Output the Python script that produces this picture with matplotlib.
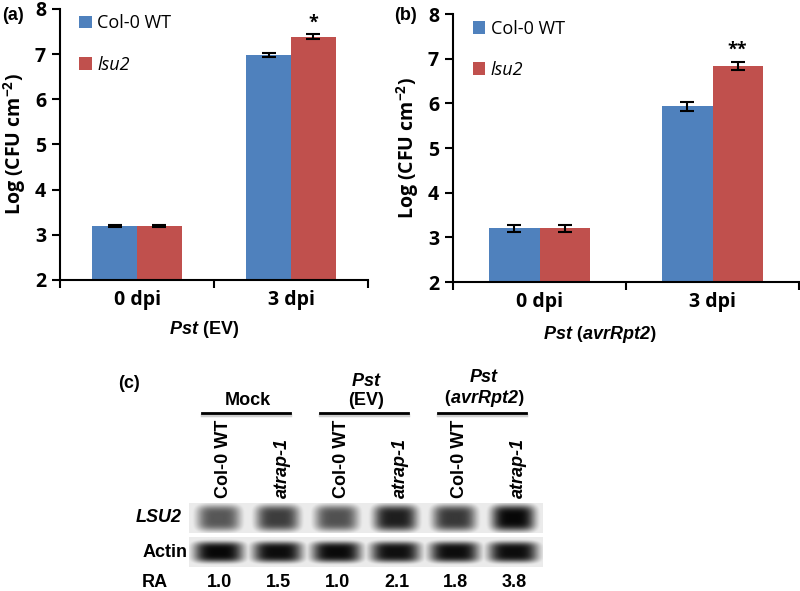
import numpy as np
import matplotlib
matplotlib.use('Agg')
import matplotlib.pyplot as plt

plt.rcParams['font.family'] = ['Open Sans', 'DejaVu Sans']
plt.rcParams['mathtext.fontset'] = 'custom'
plt.rcParams['mathtext.rm'] = 'Open Sans:bold'
plt.rcParams['mathtext.bf'] = 'Open Sans:bold'
plt.rcParams['mathtext.it'] = 'Liberation Sans:italic:bold'

# Bakteri sayımları (log CFU/cm2)
categories = ['0 dpi', '3 dpi']
wt_a = [3.2, 6.98]
wt_a_err = [0.02, 0.05]
lsu2_a = [3.2, 7.39]
lsu2_a_err = [0.02, 0.05]
sig_a = ['', '*']

wt_b = [3.2, 5.93]
wt_b_err = [0.07, 0.10]
lsu2_b = [3.2, 6.84]
lsu2_b_err = [0.07, 0.09]
sig_b = ['', '**']

# Northern blot (c)
lanes = ['Col-0 WT', 'atrap-1', 'Col-0 WT', 'atrap-1', 'Col-0 WT', 'atrap-1']
groups = ['Mock', '$\\mathit{Pst}$\n(EV)', 'Pst\n$\\mathrm{(}$avrRpt2$\\mathrm{)}$']
group_italic = [False, False, True]
ra = ['1.0', '1.5', '1.0', '2.1', '1.8', '3.8']
lsu2_band = [0.66, 0.76, 0.68, 0.88, 0.78, 0.97]
actin_band = [0.97, 0.95, 0.96, 0.94, 0.95, 0.95]

blue = '#4F81BD'
red = '#C0504D'


def bar_panel(ax, wt, wt_err, mut, mut_err, sig, xlabel, xlabel_style, label_x, label_y):
    x = np.arange(len(categories))
    w = 0.29
    ax.bar(x - w / 2, wt, w, color=blue, label='Col-0 WT')
    ax.bar(x + w / 2, mut, w, color=red, label='lsu2')
    ax.errorbar(x - w / 2, wt, yerr=wt_err, fmt='none', ecolor='black',
                capsize=5, elinewidth=1.5, capthick=1.5)
    ax.errorbar(x + w / 2, mut, yerr=mut_err, fmt='none', ecolor='black',
                capsize=5, elinewidth=1.5, capthick=1.5)
    for i in range(len(x)):
        if sig[i]:
            ax.text(x[i] + w / 2, mut[i] + mut_err[i] + 0.06, sig[i],
                    ha='center', va='bottom', fontsize=13, fontweight='bold')
    ax.set_xlim(-0.5, 1.5)
    ax.set_ylim(2, 8)
    ax.set_yticks(range(2, 9))
    ax.set_xticks(x)
    ax.set_xticklabels(categories)
    ax.set_xticks([-0.5, 0.5, 1.5], minor=True)
    ax.tick_params(axis='x', which='major', length=0, pad=7, labelsize=14)
    ax.tick_params(axis='x', which='minor', length=6, width=1.5, direction='out')
    ax.tick_params(axis='y', length=6, width=1.5, direction='out', labelsize=14, pad=4)
    for t in ax.get_xticklabels() + ax.get_yticklabels():
        t.set_fontweight('bold')
    for s in ['top', 'right']:
        ax.spines[s].set_visible(False)
    for s in ['left', 'bottom']:
        ax.spines[s].set_linewidth(1.5)
    ax.set_ylabel('Log (CFU cm$^{-2}$)', fontsize=14, fontweight='bold', labelpad=5)
    ax.set_xlabel(xlabel, fontsize=13, fontweight='bold', family='Liberation Sans',
                  style=xlabel_style)
    ax.xaxis.set_label_coords(label_x, label_y)
    leg = ax.legend(loc='upper left', bbox_to_anchor=(0.01, 1.04), frameon=False,
                    fontsize=13, labelspacing=1.3, handlelength=0.7, handleheight=0.7,
                    handletextpad=0.3)
    leg.get_texts()[1].set_style('italic')


fig = plt.figure(figsize=(8, 5.91), dpi=100)

ax_a = fig.add_axes([60 / 800, 1 - 280 / 591, 308 / 800, 271 / 591])
bar_panel(ax_a, wt_a, wt_a_err, lsu2_a, lsu2_a_err, sig_a,
          '$\\mathit{Pst}$ (EV)', 'normal', 0.468, -0.145)

ax_b = fig.add_axes([453 / 800, 1 - 282 / 591, 346 / 800, 268 / 591])
bar_panel(ax_b, wt_b, wt_b_err, lsu2_b, lsu2_b_err, sig_b,
          'Pst $\\mathrm{(}$avrRpt2$\\mathrm{)}$', 'italic', 0.425, -0.156)

# blot paneli
ax_c = fig.add_axes([189 / 800, 1 - 567 / 591, 354 / 800, 64 / 591])
ax_c.set_xlim(-0.5, 5.5)
ax_c.set_ylim(1.43, -0.43)
ax_c.axis('off')

xs = np.linspace(-0.5, 5.5, 600)
ys = np.linspace(-0.43, 0.43, 60)
X, Y = np.meshgrid(xs, ys)
for r, (bands, sx, sy) in enumerate([(lsu2_band, 0.37, 0.38), (actin_band, 0.42, 0.30)]):
    img = np.full(X.shape, 0.08)
    for i, s in enumerate(bands):
        blob = s * np.exp(-(((X - i) / sx) ** 4 + (Y / sy) ** 4))
        img = np.maximum(img, blob)
    ax_c.imshow(img, extent=(-0.5, 5.5, r + 0.43, r - 0.43), cmap='gray_r',
                vmin=0, vmax=1, aspect='auto', interpolation='bilinear')

for i, name in enumerate(lanes):
    ax_c.text(i + 0.08, -0.58, name, rotation=90, ha='center', va='bottom',
              fontsize=13, fontweight='bold', family='Liberation Sans',
              style='italic' if name.startswith('atrap') else 'normal', clip_on=False)
    ax_c.text(i + 0.02, 1.89, ra[i], ha='center', va='center', fontsize=13,
              fontweight='bold', family='Liberation Sans', clip_on=False)

for g, name in enumerate(groups):
    x0, x1 = 2 * g - 0.28, 2 * g + 1.21
    ax_c.plot([x0, x1], [-3.0, -3.0], color='#b0b0b0', lw=2.5, alpha=0.6, clip_on=False)
    ax_c.plot([x0, x1], [-3.05, -3.05], color='black', lw=2, clip_on=False)
    ax_c.text(2 * g + 0.5, -3.17, name, ha='center', va='bottom', fontsize=13,
              fontweight='bold', family='Liberation Sans', linespacing=1.1,
              style='italic' if group_italic[g] else 'normal', clip_on=False)

ax_c.text(-0.62, 0, 'LSU2', ha='right', va='center', fontsize=13, fontweight='bold',
          style='italic', family='Liberation Sans', clip_on=False)
ax_c.text(-0.52, 1, 'Actin', ha='right', va='center', fontsize=13, fontweight='bold',
          family='Liberation Sans', clip_on=False)
ax_c.text(-1.08, 1.89, 'RA', ha='center', va='center', fontsize=13, fontweight='bold',
          family='Liberation Sans', clip_on=False)

fig.text(2 / 800, 1 - 15 / 591, '(a)', ha='left', va='center', fontsize=13,
         fontweight='bold', family='Liberation Sans')
fig.text(394 / 800, 1 - 15 / 591, '(b)', ha='left', va='center', fontsize=13,
         fontweight='bold', family='Liberation Sans')
fig.text(118 / 800, 1 - 383 / 591, '(c)', ha='left', va='center', fontsize=13,
         fontweight='bold', family='Liberation Sans')

fig.savefig('out.png', dpi=100)
